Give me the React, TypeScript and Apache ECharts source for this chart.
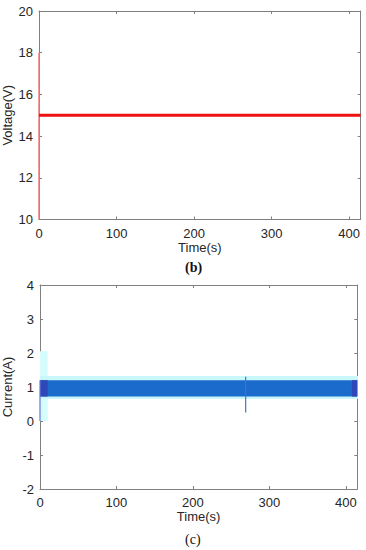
import React, { useEffect, useRef } from "react";
import * as echarts from "echarts";

// ---- data ----
const timeTicks = [0, 100, 200, 300, 400];
const timeMax = 415;

// (b) Voltage
const voltageStartT = [0, 0];
const voltageStartV = [10, 18];
const voltageT = [0, 415];
const voltageV = [15, 15];

// (c) Current (fast switching band)
const haloT = [-10, 426];
const haloLow = [0.65, 0.65];
const haloHigh = [1.32, 1.32];
const bandT = [0, 415];
const bandLow = [0.72, 0.72];
const bandHigh = [1.2, 1.2];
const bandStartT = [0, 10];
const bandEndT = [408, 415];
const startupT = [-10, 10];
const startupLow = [0, 0];
const startupHigh = [2.05, 2.05];
const startLineT = [0, 0];
const startLineI = [0, 1.2];
const spikeT = [269, 269];
const spikeI = [1.3, 0.25];

const pairs = (xs: number[], ys: number[]) => xs.map((x, i) => [x, ys[i]]);

const FONT = "Liberation Sans";
const AXIS_COLOR = "#808080";
const LABEL_COLOR = "#262626";

function xAxes(gridIndex: number, showName: boolean) {
  const base = {
    type: "value" as const,
    gridIndex,
    min: 0,
    max: timeMax,
    interval: 100,
    splitLine: { show: false },
    axisLine: { show: true, onZero: false, lineStyle: { color: AXIS_COLOR, width: 1 } },
    axisTick: { show: true, inside: true, length: 3, lineStyle: { color: AXIS_COLOR } },
  };
  return [
    {
      ...base,
      position: "bottom",
      name: showName ? "Time(s)" : "",
      nameLocation: "middle",
      nameGap: 21,
      nameMoveOverlap: false,
      nameTextStyle: { fontFamily: FONT, fontSize: 13, color: LABEL_COLOR },
      axisLabel: {
        fontFamily: FONT,
        fontSize: 13,
        color: LABEL_COLOR,
        margin: 7,
        customValues: timeTicks,
        formatter: (v: number) => String(v),
      },
    },
    {
      ...base,
      position: "top",
      axisLabel: { show: false },
    },
  ];
}

function yAxes(gridIndex: number, min: number, max: number, interval: number, name: string, gap: number) {
  const base = {
    type: "value" as const,
    gridIndex,
    min,
    max,
    interval,
    splitLine: { show: false },
    axisLine: { show: true, onZero: false, lineStyle: { color: AXIS_COLOR, width: 1 } },
    axisTick: { show: true, inside: true, length: 3, lineStyle: { color: AXIS_COLOR } },
  };
  return [
    {
      ...base,
      position: "left",
      name,
      nameLocation: "middle",
      nameGap: gap,
      nameMoveOverlap: false,
      nameTextStyle: { fontFamily: FONT, fontSize: 13, color: LABEL_COLOR },
      axisLabel: { fontFamily: FONT, fontSize: 13, color: LABEL_COLOR, margin: 6 },
    },
    {
      ...base,
      position: "right",
      axisLabel: { show: false },
    },
  ];
}

export default function App() {
  const ref = useRef<HTMLDivElement>(null);
  useEffect(() => {
    if (!ref.current) return;
    const chart = echarts.init(ref.current, null, { renderer: "svg" });
    const option: any = {
      animation: false,
      backgroundColor: "#ffffff",
      grid: [
        { left: 39, top: 11, width: 321.7, height: 208.5, containLabel: false, outerBoundsMode: "none" },
        { left: 40, top: 285, width: 317.3, height: 204, containLabel: false, outerBoundsMode: "none" },
      ],
      xAxis: [...xAxes(0, true), ...xAxes(1, true)],
      yAxis: [
        ...yAxes(0, 10, 20, 2, "Voltage(V)", 25),
        ...yAxes(1, -2, 4, 1, "Current(A)", 26),
      ],
      series: [
        // ---- voltage ----
        {
          type: "line",
          xAxisIndex: 0,
          yAxisIndex: 0,
          data: pairs(voltageStartT, voltageStartV),
          showSymbol: false,
          lineStyle: { color: "#f07878", width: 1.5 },
          z: 3,
        },
        {
          type: "line",
          xAxisIndex: 0,
          yAxisIndex: 0,
          data: pairs(voltageT, voltageV),
          showSymbol: false,
          lineStyle: { color: "#ee1111", width: 3.2 },
          z: 4,
        },
        // ---- current ----
        {
          type: "line",
          xAxisIndex: 2,
          yAxisIndex: 2,
          clip: false,
          data: pairs(startupT, startupHigh),
          showSymbol: false,
          lineStyle: { width: 0 },
          areaStyle: { color: "#d6fbfd", opacity: 1, origin: startupLow[0] },
          z: 1,
        },
        {
          type: "line",
          xAxisIndex: 2,
          yAxisIndex: 2,
          clip: false,
          data: pairs(haloT, haloHigh),
          showSymbol: false,
          lineStyle: { width: 0 },
          areaStyle: { color: "#c8f8fb", opacity: 1, origin: haloLow[0] },
          z: 2,
        },
        {
          type: "line",
          xAxisIndex: 2,
          yAxisIndex: 2,
          data: pairs(bandT, bandHigh),
          showSymbol: false,
          lineStyle: { width: 0 },
          areaStyle: { color: "#1a6bcc", opacity: 1, origin: bandLow[0] },
          z: 3,
        },
        {
          type: "line",
          xAxisIndex: 2,
          yAxisIndex: 2,
          data: pairs(bandStartT, bandHigh),
          showSymbol: false,
          lineStyle: { width: 0 },
          areaStyle: { color: "#2f47b8", opacity: 1, origin: bandLow[0] },
          z: 4,
        },
        {
          type: "line",
          xAxisIndex: 2,
          yAxisIndex: 2,
          data: pairs(bandEndT, bandHigh),
          showSymbol: false,
          lineStyle: { width: 0 },
          areaStyle: { color: "#2f47b8", opacity: 1, origin: bandLow[0] },
          z: 4,
        },
        {
          type: "line",
          xAxisIndex: 2,
          yAxisIndex: 2,
          data: pairs(startLineT, startLineI),
          showSymbol: false,
          lineStyle: { color: "#5b7fd6", width: 1.2 },
          z: 5,
        },
        {
          type: "line",
          xAxisIndex: 2,
          yAxisIndex: 2,
          data: pairs(spikeT, spikeI),
          showSymbol: false,
          lineStyle: { color: "#4a6fd0", width: 1.2 },
          z: 5,
        },
      ],
      graphic: [
        {
          type: "text",
          left: 185,
          top: 260,
          style: {
            text: "(b)",
            font: "bold 14px 'Liberation Serif'",
            fill: "#111",
          },
        },
        {
          type: "text",
          left: 185,
          top: 532,
          style: {
            text: "(c)",
            font: "14px 'Liberation Serif'",
            fill: "#111",
          },
        },
      ],
    };
    chart.setOption(option);
    return () => chart.dispose();
  }, []);
  return (
    <div
      ref={ref}
      style={{ position: "fixed", left: 0, top: 0, width: 366, height: 550 }}
    />
  );
}
